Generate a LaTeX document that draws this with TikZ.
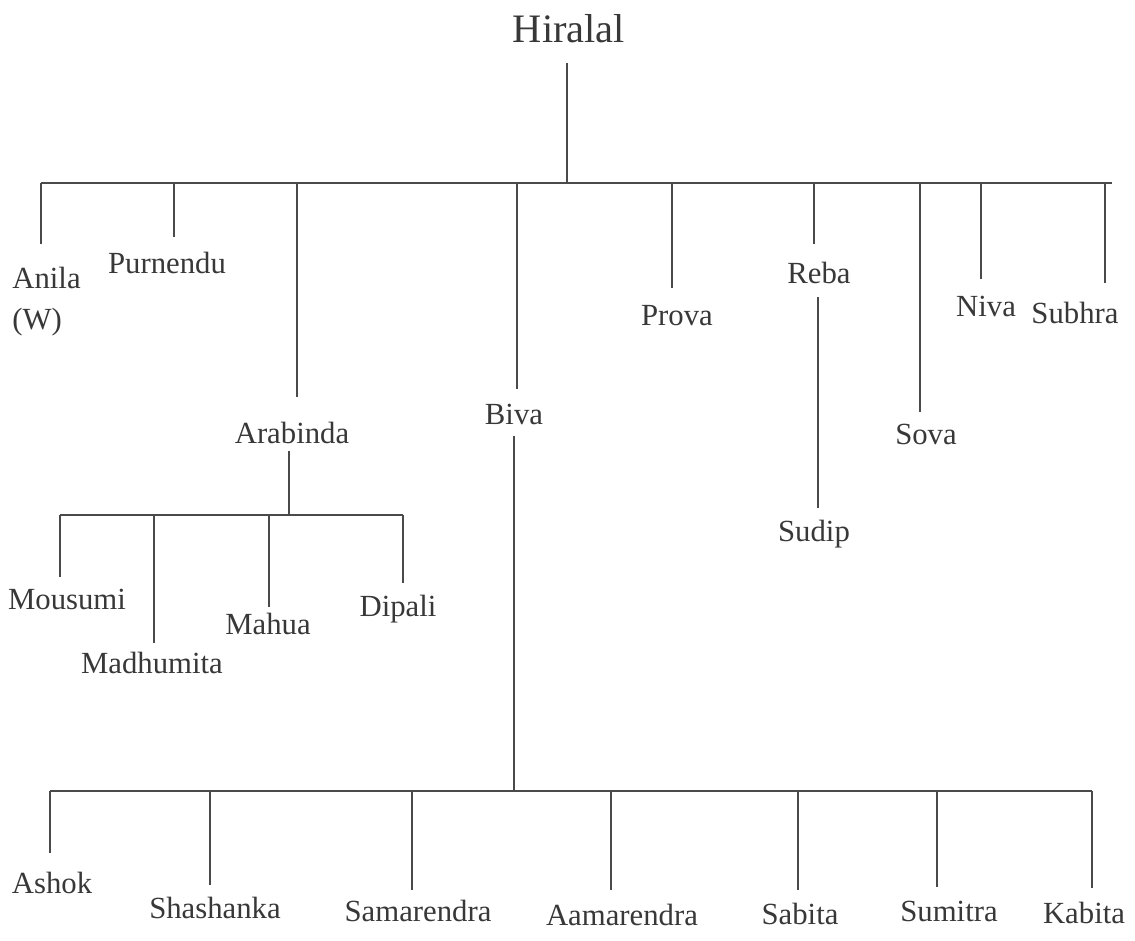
\documentclass[tikz,border=0pt]{standalone}
\usepackage{fontspec}
\setmainfont{Liberation Serif}
\definecolor{ink}{HTML}{383838}
\definecolor{wire}{HTML}{4A4A4A}
\tikzset{
  person/.style={font=\fontsize{17.5}{23}\selectfont, text=ink, inner sep=0pt,
    text height=12.3pt, text depth=3.9pt, anchor=north},
  root/.style={person, font=\fontsize{23}{28}\selectfont,
    text height=16pt, text depth=5pt},
  link/.style={draw=wire, line width=1.6pt}
}

\begin{document}
\begin{tikzpicture}[x=0.02cm, y=-0.02cm]
\useasboundingbox (0,0) rectangle (1135,940);

% Hiralal and his children
\node (hiralal) [root] at (569,14) {Hiralal};
\coordinate (j-top) at (567,183);

\node (anila)    [anchor=north west, inner sep=0pt, align=left, text=ink,
                  font=\fontsize{17.5}{23}\selectfont] at (12,267) {Anila\\(W)};
\node (purnendu) [person] at (167,252) {Purnendu};
\node (arabinda) [person] at (292,422) {Arabinda};
\node (biva)     [person] at (514,403) {Biva};
\node (prova)    [person] at (677,304) {Prova};
\node (reba)     [person] at (819,262) {Reba};
\node (sova)     [person] at (926,423) {Sova};
\node (niva)     [person] at (986,295) {Niva};
\node (subhra)   [person] at (1075,302) {Subhra};

\coordinate (j-anila)    at (41,183);
\coordinate (j-purnendu) at (174,183);
\coordinate (j-arabinda) at (297,183);
\coordinate (j-biva)     at (517,183);
\coordinate (j-prova)    at (672,183);
\coordinate (j-reba)     at (814,183);
\coordinate (j-sova)     at (920,183);
\coordinate (j-niva)     at (981,183);
\coordinate (j-subhra)   at (1105,183);

\draw [link, shorten <=6.5pt] (hiralal.south -| j-top) -- (j-top);
\draw [link] (j-anila) -- (j-subhra) -- ++(7,0);
\draw [link, shorten >=13pt]  (j-anila)    -- (j-anila |- anila.north);
\draw [link, shorten >=8.5pt] (j-purnendu) -- (j-purnendu |- purnendu.north);
\draw [link, shorten >=14pt]  (j-arabinda) -- (j-arabinda |- arabinda.north);
\draw [link, shorten >=8pt]   (j-biva)     -- (j-biva |- biva.north);
\draw [link, shorten >=9pt]   (j-prova)    -- (j-prova |- prova.north);
\draw [link, shorten >=10pt]  (j-reba)     -- (j-reba |- reba.north);
\draw [link, shorten >=6pt]   (j-sova)     -- (j-sova |- sova.north);
\draw [link, shorten >=9pt]   (j-niva)     -- (j-niva |- niva.north);
\draw [link, shorten >=11pt]  (j-subhra)   -- (j-subhra |- subhra.north);

% Reba
\node (sudip) [person] at (814,520) {Sudip};
\coordinate (j-rb) at (818,300);
\draw [link, shorten <=3.5pt, shorten >=7pt] (reba.south -| j-rb) -- (sudip.north -| j-rb);

% Arabinda's children
\coordinate (j-ara) at (289,515);
\node (mousumi)   [person] at (67,588)  {Mousumi};
\node (madhumita) [person] at (152,652) {Madhumita};
\node (mahua)     [person] at (268,613) {Mahua};
\node (dipali)    [person] at (398,595) {Dipali};

\coordinate (j-mousumi)   at (60,515);
\coordinate (j-madhumita) at (154,515);
\coordinate (j-mahua)     at (269,515);
\coordinate (j-dipali)    at (403,515);

\draw [link] (arabinda.south -| j-ara) -- (j-ara);
\draw [link] (j-mousumi) -- (j-dipali);
\draw [link, shorten >=6pt]   (j-mousumi)   -- (j-mousumi |- mousumi.north);
\draw [link, shorten >=5pt]   (j-madhumita) -- (j-madhumita |- madhumita.north);
\draw [link, shorten >=3.5pt] (j-mahua)     -- (j-mahua |- mahua.north);
\draw [link, shorten >=7pt]   (j-dipali)    -- (j-dipali |- dipali.north);

% Biva's children
\coordinate (j-bv) at (514,791);
\node (ashok)      [person] at (52,872)   {Ashok};
\node (shashanka)  [person] at (215,897)  {Shashanka};
\node (samarendra) [person] at (418,900)  {Samarendra};
\node (aamarendra) [person] at (622,904)  {Aamarendra};
\node (sabita)     [person] at (800,903)  {Sabita};
\node (sumitra)    [person] at (949,900)  {Sumitra};
\node (kabita)     [person] at (1084,902) {Kabita};

\coordinate (j-ashok)      at (50,791);
\coordinate (j-shashanka)  at (210,791);
\coordinate (j-samarendra) at (412,791);
\coordinate (j-aamarendra) at (611,791);
\coordinate (j-sabita)     at (798,791);
\coordinate (j-sumitra)    at (937,791);
\coordinate (j-kabita)     at (1092,791);

\draw [link, shorten <=2pt] (biva.south -| j-bv) -- (j-bv);
\draw [link] (j-ashok) -- (j-kabita);
\draw [link, shorten >=11pt]  (j-ashok)      -- (j-ashok |- ashok.north);
\draw [link, shorten >=7pt]   (j-shashanka)  -- (j-shashanka |- shashanka.north);
\draw [link, shorten >=5.5pt] (j-samarendra) -- (j-samarendra |- samarendra.north);
\draw [link, shorten >=8pt]   (j-aamarendra) -- (j-aamarendra |- aamarendra.north);
\draw [link, shorten >=7.5pt] (j-sabita)     -- (j-sabita |- sabita.north);
\draw [link, shorten >=7.5pt] (j-sumitra)    -- (j-sumitra |- sumitra.north);
\draw [link, shorten >=8pt]   (j-kabita)     -- (j-kabita |- kabita.north);
\end{tikzpicture}
\end{document}
